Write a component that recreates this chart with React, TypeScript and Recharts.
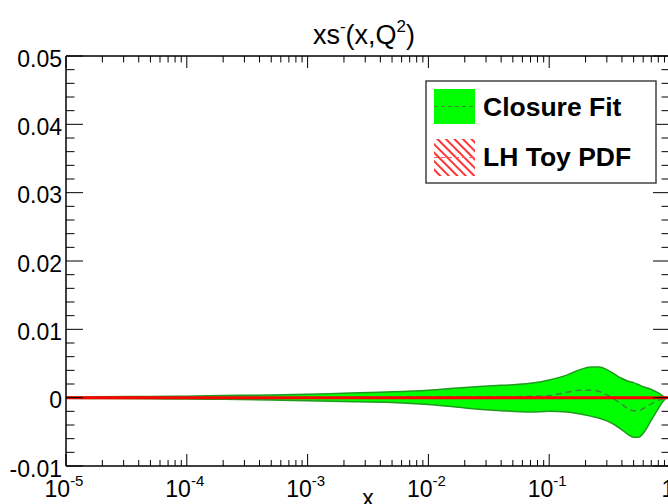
import React from 'react';
import { ComposedChart, Area, Line, XAxis, YAxis } from 'recharts';

// ---- data ----
const xValues = [1e-5, 2e-5, 5e-5, 1e-4, 2e-4, 5e-4, 1e-3, 2e-3, 5e-3, 1e-2, 2e-2, 4e-2, 7e-2, 0.1, 0.14, 0.18, 0.22, 0.26, 0.3, 0.35, 0.4, 0.45, 0.5, 0.55, 0.6, 0.7, 0.8, 0.9, 0.95, 1];
const upperBand = [0.0001, 0.00012, 0.00018, 0.00022, 0.0003, 0.0004, 0.0005, 0.00065, 0.00085, 0.0011, 0.0015, 0.0018, 0.0021, 0.0026, 0.0033, 0.0041, 0.0045, 0.0045, 0.0041, 0.0034, 0.0028, 0.0024, 0.0022, 0.0019, 0.0016, 0.0012, 0.0007, 0.0001, 0, 0];
const lowerBand = [-0.0001, -0.00012, -0.00016, -0.0002, -0.00025, -0.00035, -0.00045, -0.00055, -0.0007, -0.001, -0.0015, -0.0019, -0.0021, -0.002, -0.0021, -0.0024, -0.0027, -0.003, -0.0034, -0.004, -0.0047, -0.0054, -0.0058, -0.0058, -0.0052, -0.0033, -0.0016, -0.0003, 0, 0];
const centralValue = [0, 0, 0, 0, 0, 0, 0, 0.00005, 0.00008, 0.0001, 0.0001, 0.0001, 0.0002, 0.0003, 0.0008, 0.0011, 0.0011, 0.0009, 0.0004, -0.0003, -0.001, -0.0016, -0.0019, -0.0019, -0.0016, -0.0009, -0.0004, -0.0001, 0, 0];
const toyPdf = [0, 0, 0, 0, 0, 0, 0, 0, 0, 0, 0, 0, 0, 0, 0, 0, 0, 0, 0, 0, 0, 0, 0, 0, 0, 0, 0, 0, 0, 0];

const xMajorTicks = [1e-5, 1e-4, 1e-3, 1e-2, 1e-1, 1];
const xMajorBase = ['10', '10', '10', '10', '10', '1'];
const xMajorExp = ['-5', '-4', '-3', '-2', '-1', ''];
const xMinorTicks = [
  2e-5, 3e-5, 4e-5, 5e-5, 6e-5, 7e-5, 8e-5, 9e-5,
  2e-4, 3e-4, 4e-4, 5e-4, 6e-4, 7e-4, 8e-4, 9e-4,
  2e-3, 3e-3, 4e-3, 5e-3, 6e-3, 7e-3, 8e-3, 9e-3,
  2e-2, 3e-2, 4e-2, 5e-2, 6e-2, 7e-2, 8e-2, 9e-2,
  0.2, 0.3, 0.4, 0.5, 0.6, 0.7, 0.8, 0.9,
];
const yMajorTicks = [-0.01, 0, 0.01, 0.02, 0.03, 0.04, 0.05];
const yTickLabels = ['-0.01', '0', '0.01', '0.02', '0.03', '0.04', '0.05'];
const yMinorTicks = [-0.008, -0.006, -0.004, -0.002, 0.002, 0.004, 0.006, 0.008, 0.012, 0.014, 0.016, 0.018, 0.022, 0.024, 0.026, 0.028, 0.032, 0.034, 0.036, 0.038, 0.042, 0.044, 0.046, 0.048];

const titleText = 'xs';
const legendLabels = ['Closure Fit', 'LH Toy PDF'];

const data = xValues.map((x, i) => ({
  x,
  band: [lowerBand[i], upperBand[i]],
  central: centralValue[i],
  toy: toyPdf[i],
}));

const xTicks = [...xMajorTicks, ...xMinorTicks].sort((a, b) => a - b);
const yTicks = [...yMajorTicks, ...yMinorTicks].sort((a, b) => a - b);

const FONT = '"Liberation Sans", Arial, Helvetica, sans-serif';

const majorXIndex = (v: number) => xMajorTicks.findIndex((t) => Math.abs(Math.log10(t) - Math.log10(v)) < 1e-6);
const majorYIndex = (v: number) => yMajorTicks.findIndex((t) => Math.abs(t - v) < 1e-9);

const BottomTick = (props: any) => {
  const { x, y, payload } = props;
  const idx = majorXIndex(payload.value);
  const major = idx >= 0;
  return (
    <g>
      <line x1={x} y1={y} x2={x} y2={y - (major ? 12 : 6)} stroke="#000" strokeWidth={1} />
      {major && (
        <text x={x - 2} y={y + 31} textAnchor="middle" fontSize={23} fontFamily={FONT} fill="#000">
          <tspan>{xMajorBase[idx]}</tspan>
          {xMajorExp[idx] && <tspan fontSize={15} dy={-11}>{xMajorExp[idx]}</tspan>}
        </text>
      )}
    </g>
  );
};

const TopTick = (props: any) => {
  const { x, y, payload } = props;
  const major = majorXIndex(payload.value) >= 0;
  return <line x1={x} y1={y} x2={x} y2={y + (major ? 12 : 6.5)} stroke="#000" strokeWidth={1} />;
};

const LeftTick = (props: any) => {
  const { x, y, payload } = props;
  const idx = majorYIndex(payload.value);
  const major = idx >= 0;
  return (
    <g>
      <line x1={x} y1={y} x2={x + (major ? 17 : 8.5)} y2={y} stroke="#000" strokeWidth={1} />
      {major && (
        <text x={x - 4} y={y + 10.5} textAnchor="end" fontSize={23} fontFamily={FONT} fill="#000">
          {yTickLabels[idx]}
        </text>
      )}
    </g>
  );
};

const RightTick = (props: any) => {
  const { x, y, payload } = props;
  const major = majorYIndex(payload.value) >= 0;
  return <line x1={x} y1={y} x2={x - (major ? 17 : 8.5)} y2={y} stroke="#000" strokeWidth={1} />;
};

export default function App() {
  return (
    <div style={{ position: 'absolute', left: 0, top: 0, width: 668, height: 504, overflow: 'hidden', background: '#fff' }}>
      <ComposedChart width={672} height={504} data={data} margin={{ top: 36, right: 0, bottom: 8, left: 6 }}>
        <XAxis
          xAxisId="bottom"
          dataKey="x"
          type="number"
          scale="log"
          domain={[1e-5, 1]}
          allowDataOverflow
          ticks={xTicks}
          interval={0}
          tickSize={0}
          tickMargin={0}
          tick={<BottomTick />}
          height={30}
          axisLine={{ stroke: '#000', strokeWidth: 1.5 }}
          tickLine={false}
        />
        <XAxis
          xAxisId="top"
          orientation="top"
          dataKey="x"
          type="number"
          scale="log"
          domain={[1e-5, 1]}
          allowDataOverflow
          ticks={xTicks}
          interval={0}
          tickSize={0}
          tickMargin={0}
          tick={<TopTick />}
          height={20}
          axisLine={{ stroke: '#000', strokeWidth: 1.5 }}
          tickLine={false}
        />
        <YAxis
          yAxisId="left"
          type="number"
          domain={[-0.01, 0.05]}
          allowDataOverflow
          ticks={yTicks}
          interval={0}
          tickSize={0}
          tickMargin={0}
          tick={<LeftTick />}
          width={60}
          axisLine={{ stroke: '#000', strokeWidth: 1.5 }}
          tickLine={false}
        />
        <YAxis
          yAxisId="right"
          orientation="right"
          type="number"
          domain={[-0.01, 0.05]}
          allowDataOverflow
          ticks={yTicks}
          interval={0}
          tickSize={0}
          tickMargin={0}
          tick={<RightTick />}
          width={2}
          axisLine={{ stroke: '#000', strokeWidth: 1.5 }}
          tickLine={false}
        />
        <Area
          xAxisId="bottom"
          yAxisId="left"
          dataKey="band"
          type="monotone"
          fill="#00ff00"
          fillOpacity={1}
          stroke="#1f9a1f"
          strokeWidth={1.5}
          isAnimationActive={false}
          dot={false}
          activeDot={false}
        />
        <Line
          xAxisId="bottom"
          yAxisId="left"
          dataKey="central"
          type="monotone"
          stroke="#3b8a3b"
          strokeWidth={1.5}
          strokeDasharray="6 4"
          dot={false}
          activeDot={false}
          isAnimationActive={false}
        />
        <Line
          xAxisId="bottom"
          yAxisId="left"
          dataKey="toy"
          type="linear"
          stroke="#ff0000"
          strokeWidth={3}
          dot={false}
          activeDot={false}
          isAnimationActive={false}
        />
      </ComposedChart>
      <svg width={668} height={504} style={{ position: 'absolute', left: 0, top: 0, pointerEvents: 'none' }}>
        <defs>
          <pattern id="hatch" patternUnits="userSpaceOnUse" width={6} height={6} patternTransform="rotate(-45)">
            <line x1={1} y1={0} x2={1} y2={6} stroke="#ff0000" strokeWidth={1.6} />
          </pattern>
        </defs>
        <text x={364} y={44} textAnchor="middle" fontSize={27} fontFamily={FONT} fill="#000">
          <tspan>{titleText}</tspan>
          <tspan fontSize={17} dy={-12}>-</tspan>
          <tspan dy={12}>(x,Q</tspan>
          <tspan fontSize={17} dy={-12}>2</tspan>
          <tspan dy={12}>)</tspan>
        </text>
        <text x={368} y={506} textAnchor="middle" fontSize={23} fontFamily={FONT} fill="#000">x</text>
        <rect x={426} y={81} width={230} height={102} fill="#fff" stroke="#444" strokeWidth={1.5} />
        <rect x={434} y={89} width={41} height={35} fill="#00ff00" />
        <line x1={434} y1={106.5} x2={475} y2={106.5} stroke="#3b8a3b" strokeWidth={1} strokeDasharray="4 3" />
        <text x={483} y={116} fontSize={26.5} fontWeight="bold" fontFamily={FONT} fill="#000">{legendLabels[0]}</text>
        <rect x={434} y={139} width={41} height={37} fill="url(#hatch)" />
        <line x1={434} y1={157.5} x2={475} y2={157.5} stroke="#ff6060" strokeWidth={1} strokeDasharray="4 3" />
        <text x={483} y={166} fontSize={26.5} fontWeight="bold" fontFamily={FONT} fill="#000">{legendLabels[1]}</text>
      </svg>
    </div>
  );
}
